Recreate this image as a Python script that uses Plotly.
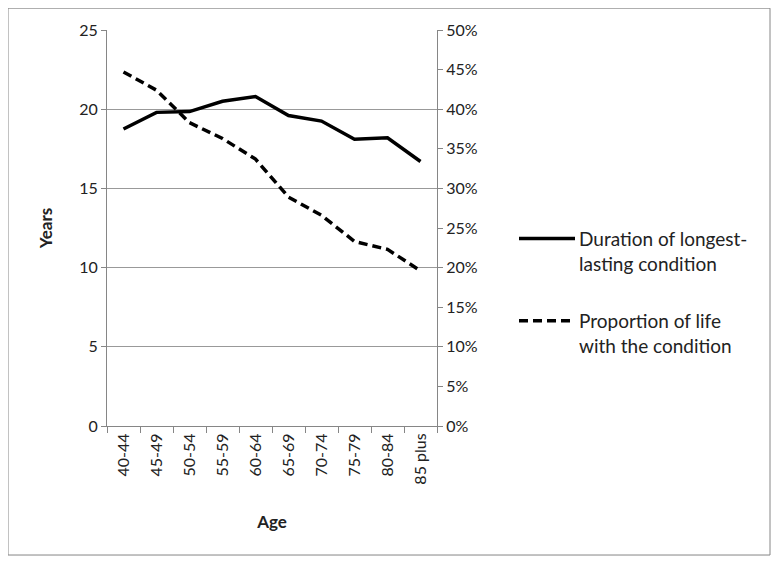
import plotly.graph_objects as go

ages = ["40-44", "45-49", "50-54", "55-59", "60-64", "65-69", "70-74", "75-79", "80-84", "85 plus"]
duration_years = [18.75, 19.8, 19.85, 20.5, 20.8, 19.6, 19.25, 18.1, 18.2, 16.7]
proportion_life = [0.447, 0.424, 0.383, 0.363, 0.337, 0.289, 0.266, 0.233, 0.223, 0.196]
legend_names = ["Duration of longest-<br>lasting condition",
                "Proportion of life<br>with the condition"]

FONT = "Lato, 'Open Sans', sans-serif"
GRAY = "#868686"
OFF = 8  # page body margin

fig = go.Figure()
fig.add_trace(go.Scatter(x=ages, y=duration_years, mode="lines",
                         name=legend_names[0],
                         line=dict(color="black", width=3.5)))
fig.add_trace(go.Scatter(x=ages, y=proportion_life, mode="lines", yaxis="y2",
                         name=legend_names[1],
                         line=dict(color="black", width=3.5, dash="9px,5px")))

W, H = 779 - OFF, 564 - OFF
L, R, T, B = 107 - OFF, 437 - OFF, 27 - OFF, 426 - OFF
pw, ph = R - L, B - T

def px(x):
    return (x - OFF - L) / pw

def py(y):
    return (B - (y - OFF)) / ph

shapes = [dict(type="rect", xref="paper", yref="paper",
               x0=px(8), x1=px(770), y0=py(556), y1=py(5),
               line=dict(color=GRAY, width=1), fillcolor="rgba(0,0,0,0)",
               layer="below")]
annotations = []
leg_y = [237, 320]
dashes = ["solid", "9px,5px"]
for name, yy, dsh in zip(legend_names, leg_y, dashes):
    shapes.append(dict(type="line", xref="paper", yref="paper",
                       x0=px(519), x1=px(575), y0=py(yy), y1=py(yy),
                       line=dict(color="black", width=3.5, dash=dsh)))
    annotations.append(dict(xref="paper", yref="paper", x=px(577), y=py(yy - 14),
                            xanchor="left", yanchor="top", align="left",
                            text=name, showarrow=False,
                            font=dict(size=19, color="#222", family=FONT)))

fig.update_layout(
    width=W, height=H,
    margin=dict(l=L, r=W - R, t=T, b=H - B),
    paper_bgcolor="white", plot_bgcolor="white",
    font=dict(family=FONT, size=16, color="#222"),
    showlegend=False,
    xaxis=dict(type="category", range=[-0.5, len(ages) - 0.5],
               showline=True, linecolor=GRAY, linewidth=1,
               ticks="outside", tickson="boundaries", tickcolor=GRAY, ticklen=6,
               tickangle=-90, showgrid=False, mirror=False,
               title=dict(text="<b>Age</b>", font=dict(size=17), standoff=32)),
    yaxis=dict(range=[0, 25], dtick=5, showline=True, linecolor=GRAY,
               ticks="outside", tickcolor=GRAY, ticklen=5,
               showgrid=True, gridcolor="#999999", gridwidth=1, zeroline=False,
               title=dict(text="<b>Years</b>", font=dict(size=17), standoff=22)),
    yaxis2=dict(range=[0, 0.5], dtick=0.05, tickformat=".0%", overlaying="y",
                side="right", showline=True, linecolor=GRAY, ticks="outside",
                tickcolor=GRAY, ticklen=5, showgrid=False, zeroline=False),
    shapes=shapes,
    annotations=annotations,
)

fig.write_html("out.html")
